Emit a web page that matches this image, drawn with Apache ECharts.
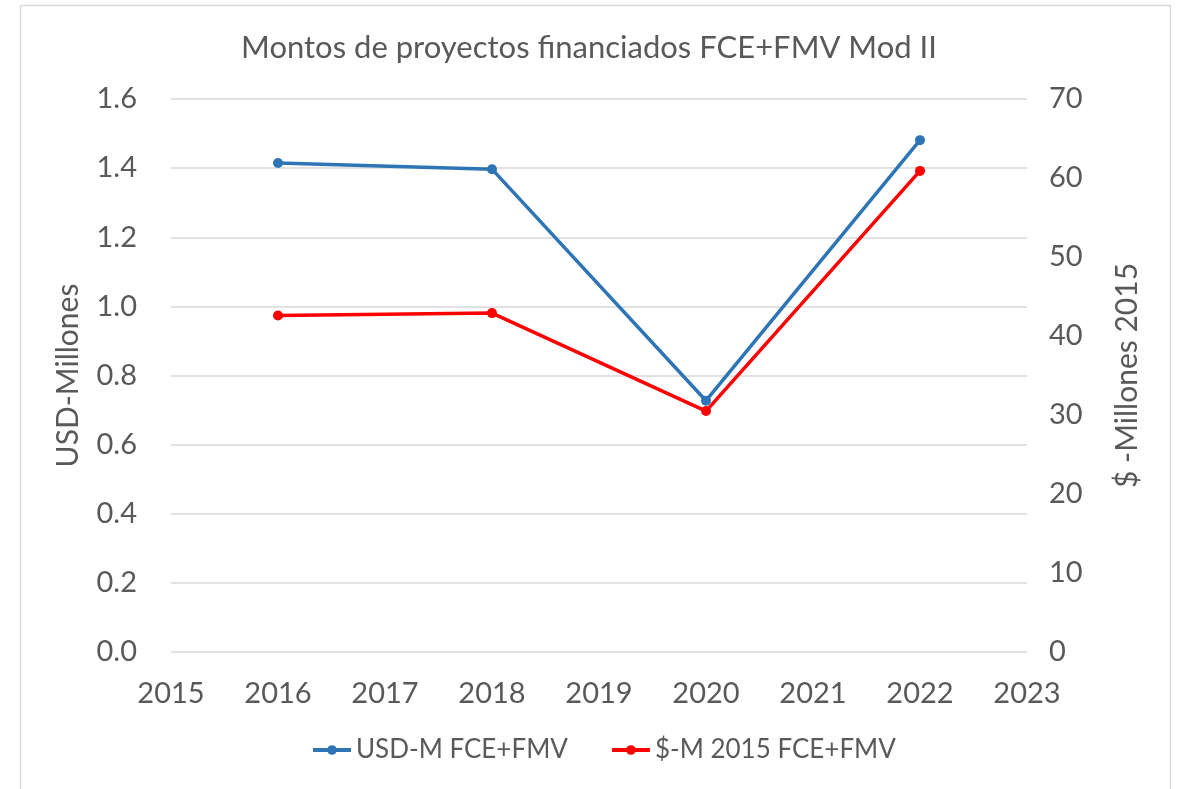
<!DOCTYPE html>
<html><head><meta charset="utf-8">
<script src="https://cdn.jsdelivr.net/npm/echarts@6/dist/echarts.min.js"></script>
<style>html,body{margin:0;padding:0;background:#fff}#c{width:1178px;height:789px}</style>
</head><body><div id="c"></div>
<script>
const years = [2016, 2018, 2020, 2022];
const usdM = [1.415, 1.397, 0.727, 1.481];
const pesosM2015 = [42.6, 42.9, 30.5, 60.9];
const seriesNames = ['USD-M FCE+FMV', '$-M 2015 FCE+FMV'];
const titleText = 'Montos de proyectos financiados FCE+FMV Mod II';
const leftAxisName = 'USD-Millones';
const rightAxisName = '$ -Millones 2015';

const FONT = 'Lato';
const TXT = '#595959';
const chart = echarts.init(document.getElementById('c'));
chart.setOption({
  animation: false,
  backgroundColor: '#fff',
  textStyle: {fontFamily: FONT},
  graphic: [{type: 'rect', shape: {x: 20.5, y: 5.5, width: 1150, height: 800}, style: {fill: 'none', stroke: '#d9d9d9', lineWidth: 1.5}}],
  title: {text: titleText, left: 'center', top: 27, textStyle: {fontFamily: FONT, fontSize: 31, fontWeight: 'normal', color: TXT}},
  legend: {bottom: 21, left: 306, itemWidth: 38, itemHeight: 12, itemGap: 42,
    lineStyle: {width: 4},
    textStyle: {fontFamily: FONT, fontSize: 26, color: TXT},
    data: [seriesNames[0], seriesNames[1]]},
  grid: {left: 171, right: 151, top: 99, bottom: 137},
  xAxis: {type: 'value', min: 2015, max: 2023, interval: 1,
    axisLine: {show: false}, axisTick: {show: false}, splitLine: {show: false},
    axisLabel: {fontFamily: FONT, fontSize: 29, color: TXT, margin: 27, formatter: v => String(v)}},
  yAxis: [
    {type: 'value', min: 0, max: 1.6, interval: 0.2, position: 'left',
      name: leftAxisName, nameLocation: 'middle', nameRotate: 90, nameGap: 88,
      nameTextStyle: {fontFamily: FONT, fontSize: 30, color: TXT},
      axisLine: {show: false}, axisTick: {show: false},
      splitLine: {lineStyle: {color: '#d9d9d9', width: 1.5}},
      axisLabel: {fontFamily: FONT, fontSize: 29, color: TXT, margin: 34, formatter: v => v.toFixed(1)}},
    {type: 'value', min: 0, max: 70, interval: 10, position: 'right',
      name: rightAxisName, nameLocation: 'middle', nameRotate: 90, nameGap: 85,
      nameTextStyle: {fontFamily: FONT, fontSize: 30, color: TXT},
      axisLine: {show: false}, axisTick: {show: false}, splitLine: {show: false},
      axisLabel: {fontFamily: FONT, fontSize: 29, color: TXT, margin: 22}}
  ],
  series: [
    {name: seriesNames[0], type: 'line', yAxisIndex: 0, data: years.map((y, i) => [y, usdM[i]]),
      symbol: 'circle', symbolSize: 10, color: '#2E75B6', lineStyle: {width: 3.5, color: '#2E75B6'}, itemStyle: {color: '#2E75B6'}},
    {name: seriesNames[1], type: 'line', yAxisIndex: 1, data: years.map((y, i) => [y, pesosM2015[i]]),
      symbol: 'circle', symbolSize: 10, color: '#FF0000', lineStyle: {width: 3.5, color: '#FF0000'}, itemStyle: {color: '#FF0000'}}
  ]
});
</script></body></html>
